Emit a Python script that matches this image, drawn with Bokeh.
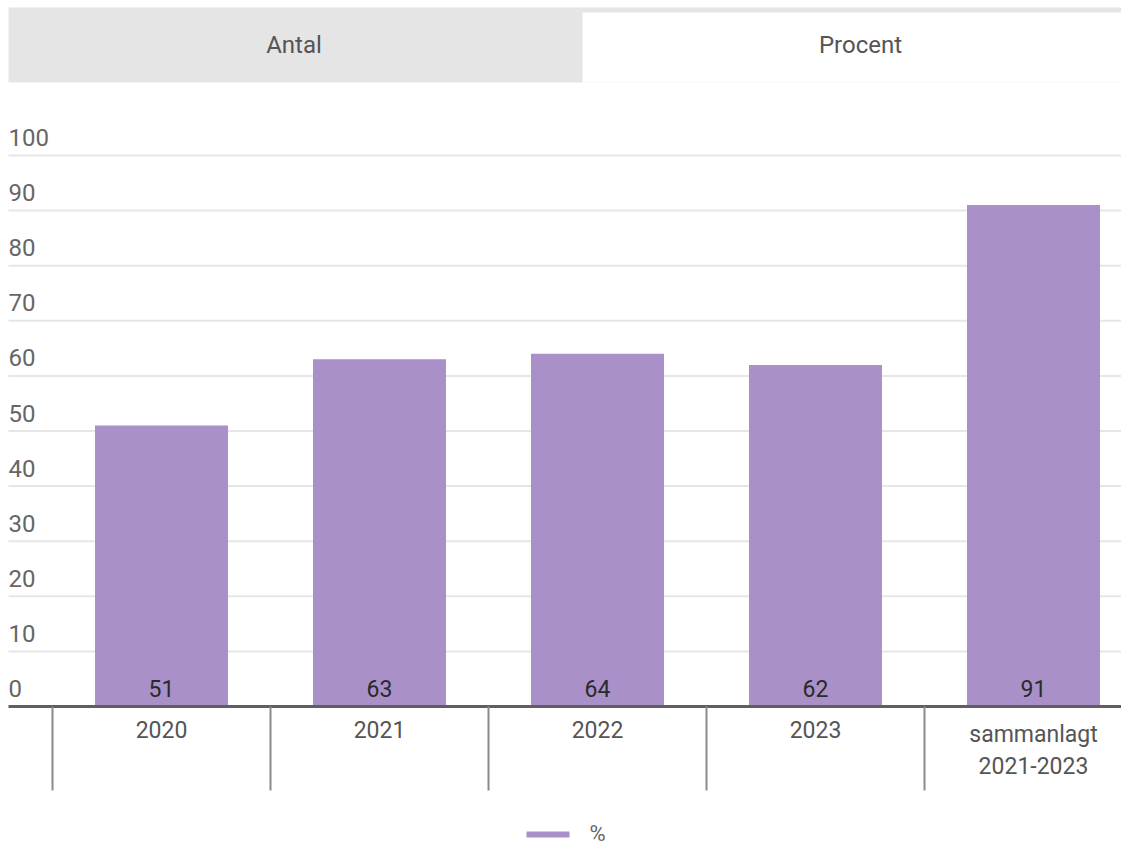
from bokeh.plotting import figure
from bokeh.models import Range1d, ColumnDataSource
from bokeh.core.properties import value
from bokeh.embed import file_html
from bokeh.resources import INLINE

# ---- data ----
categories = ["2020", "2021", "2022", "2023", "sammanlagt\n2021-2023"]
percent = [51, 63, 64, 62, 91]
y_ticks = [0, 10, 20, 30, 40, 50, 60, 70, 80, 90, 100]
tabs = ["Antal", "Procent"]
legend_label = "%"

# ---- layout (pixel geometry of the picture) ----
W, H = 1121, 847
X0_PX, CAT_PX = 52, 218      # first category edge, category width (px)
Y0_PX, UNIT_PX = 706, 5.51   # y=0 line, px per unit

def dx(px):  # picture x -> data x
    return (px - X0_PX) / CAT_PX

def dy(py):  # picture y -> data y
    return (Y0_PX - py) / UNIT_PX

FONT = value("Roboto")
BAR = "#aa90c8"

p = figure(width=W, height=H, output_backend="svg", toolbar_location=None,
           x_range=Range1d(dx(0), dx(W)),
           y_range=Range1d(dy(H), dy(0)),
           min_border=0, outline_line_color=None)
p.axis.visible = False
p.grid.visible = False
p.background_fill_color = "white"
p.border_fill_color = "white"

x_left, x_right = dx(8), dx(W)

# ---- tabs ----
p.quad(left=[x_left], right=[x_right], top=[dy(7)], bottom=[dy(82)],
       fill_color="#e5e5e5", line_color=None)
p.quad(left=[dx(582)], right=[dx(1135)], top=[dy(12)], bottom=[dy(82)],
       fill_color="white", line_color=None)
p.text(x=[dx(293.5), dx(860)], y=[dy(44), dy(44)], text=tabs,
       text_font=FONT, text_font_size="24px", text_color="#555555",
       text_align="center", text_baseline="middle")

# ---- grid lines ----
gy = [t for t in y_ticks if t > 0]
p.segment(x0=[x_left] * len(gy), x1=[x_right] * len(gy), y0=gy, y1=gy,
          line_color="#e6e6e6", line_width=2)

# ---- y tick labels (above grid lines) ----
p.text(x=[x_left] * len(y_ticks), y=y_ticks, text=[str(t) for t in y_ticks],
       text_font=FONT, text_font_size="24px", text_color="#666666",
       text_align="left", text_baseline="middle", y_offset=-18)

# ---- bars ----
xs = [i + 0.5 for i in range(len(categories))]
src = ColumnDataSource(dict(x=xs, top=percent, lab=[str(v) for v in percent],
                            cat=categories, zero=[0] * len(xs)))
p.vbar(x="x", top="top", bottom=0, width=0.61, source=src,
       fill_color=BAR, line_color=None)

# value labels at bar base
p.text(x="x", y="zero", text="lab", source=src,
       text_font=FONT, text_font_size="23px", text_color="#2a2a2a",
       text_align="center", text_baseline="middle", y_offset=-18)

# ---- x axis line and separators ----
p.segment(x0=[x_left], x1=[x_right], y0=[0], y1=[0],
          line_color="#5f5f5f", line_width=3)
seps = list(range(len(categories)))
p.segment(x0=seps, x1=seps, y0=[0] * len(seps), y1=[dy(790)] * len(seps),
          line_color="#8a8a8a", line_width=2)

# category labels
p.text(x="x", y="zero", text="cat", source=src,
       text_font=FONT, text_font_size="23px", text_color="#555555",
       text_align="center", text_baseline="top", y_offset=14,
       text_line_height=1.2)

# ---- legend ----
p.quad(left=[dx(526)], right=[dx(569)], top=[dy(831)], bottom=[dy(837)],
       fill_color=BAR, line_color=None)
p.text(x=[dx(589)], y=[dy(833)], text=[legend_label],
       text_font=FONT, text_font_size="22px", text_color="#666666",
       text_align="left", text_baseline="middle")

open("out.html", "w").write(file_html(p, INLINE))
